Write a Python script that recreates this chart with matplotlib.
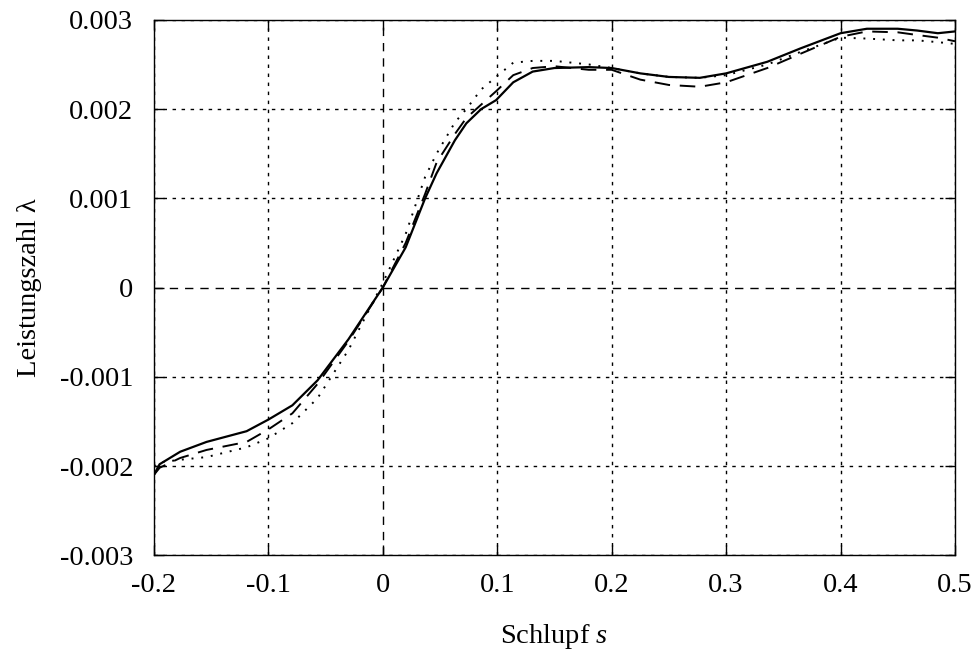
import matplotlib
matplotlib.use("Agg")
import matplotlib.pyplot as plt

# Schlupf s (shared abscissa for the three measured curves)
s = [-0.2, -0.195, -0.177, -0.154, -0.119, -0.1, -0.079, -0.057, -0.03, 0.0,
     0.02, 0.037, 0.047, 0.063, 0.073, 0.086, 0.099, 0.114, 0.131, 0.15,
     0.18, 0.2, 0.225, 0.25, 0.277, 0.3, 0.336, 0.365, 0.4, 0.423,
     0.45, 0.467, 0.485, 0.5]

# Leistungszahl lambda
lam_solid = [-0.0021, -0.00198, -0.00184, -0.00173, -0.00161, -0.00148, -0.00132, -0.00104, -0.00058, 0.0,
             0.00045, 0.001, 0.00128, 0.00165, 0.00184, 0.002, 0.0021, 0.0023, 0.00242, 0.00246,
             0.00247, 0.00246, 0.0024, 0.00236, 0.00235, 0.0024, 0.00253, 0.00268, 0.00285, 0.0029,
             0.0029, 0.00288, 0.00285, 0.00287]
lam_dashed = [-0.0021, -0.00202, -0.00191, -0.00182, -0.00173, -0.00159, -0.00141, -0.00108, -0.0006, 0.0,
              0.0005, 0.00105, 0.0014, 0.00172, 0.0019, 0.00205, 0.0022, 0.00238, 0.00246, 0.00248,
              0.00244, 0.00244, 0.00233, 0.00227, 0.00225, 0.0023, 0.00246, 0.00262, 0.00281, 0.00287,
              0.00286, 0.00283, 0.0028, 0.00276]
lam_dotted = [-0.002, -0.00196, -0.00193, -0.0019, -0.00179, -0.00169, -0.00152, -0.00124, -0.0007, 0.00005,
              0.0006, 0.00124, 0.0015, 0.00185, 0.002, 0.00222, 0.00236, 0.00252, 0.00254, 0.00254,
              0.0025, 0.00246, 0.0024, 0.00236, 0.00235, 0.00238, 0.0025, 0.00264, 0.0028, 0.00279,
              0.00277, 0.00277, 0.00275, 0.00273]

xticks = [-0.2, -0.1, 0.0, 0.1, 0.2, 0.3, 0.4, 0.5]
xlabels = ["-0.2", "-0.1", "0", "0.1", "0.2", "0.3", "0.4", "0.5"]
yticks = [-0.003, -0.002, -0.001, 0.0, 0.001, 0.002, 0.003]
ylabels = ["-0.003", "-0.002", "-0.001", "0", "0.001", "0.002", "0.003"]

plt.rcParams['font.family'] = ['Liberation Serif', 'DejaVu Serif']
plt.rcParams['font.size'] = 20.5
plt.rcParams['mathtext.fontset'] = 'custom'
plt.rcParams['mathtext.rm'] = 'Liberation Serif'
plt.rcParams['mathtext.it'] = 'Liberation Serif:italic'

fig = plt.figure(figsize=(9.74, 6.61), dpi=100)
ax = fig.add_axes([0.158, 0.160, 0.8225, 0.810])

# grid: dotted, zero lines dashed
for x in xticks:
    if x == 0.0:
        ax.axvline(x, color='black', lw=1.0, ls=(0, (6, 5)), zorder=1)
    else:
        ax.axvline(x, color='black', lw=1.0, ls=(0, (2.5, 4)), zorder=1)
for y in yticks:
    if y == 0.0:
        ax.axhline(y, color='black', lw=1.0, ls=(0, (6, 5)), zorder=1)
    else:
        ax.axhline(y, color='black', lw=1.0, ls=(0, (2.5, 4)), zorder=1)

ax.plot(s, lam_solid, color='black', lw=1.6, ls='-', zorder=3)
ax.plot(s, lam_dashed, color='black', lw=1.4, ls=(0, (8, 5)), zorder=3)
ax.plot(s, lam_dotted, color='black', lw=1.4, ls=(0, (1, 4)), zorder=3)

ax.set_xlim(-0.2, 0.5)
ax.set_ylim(-0.003, 0.003)
ax.set_xticks(xticks)
ax.set_xticklabels(xlabels)
ax.set_yticks(yticks)
ax.set_yticklabels(ylabels)
ax.tick_params(direction='in', length=7, width=1, top=True, right=True)
ax.tick_params(axis='y', pad=15)
ax.tick_params(axis='x', pad=13)
for sp in ax.spines.values():
    sp.set_linewidth(1.0)

ax.set_xlabel("Schlupf $\\it{s}$", labelpad=17)
ax.set_ylabel("Leistungszahl λ", labelpad=13)

fig.savefig("out.png", dpi=100)
